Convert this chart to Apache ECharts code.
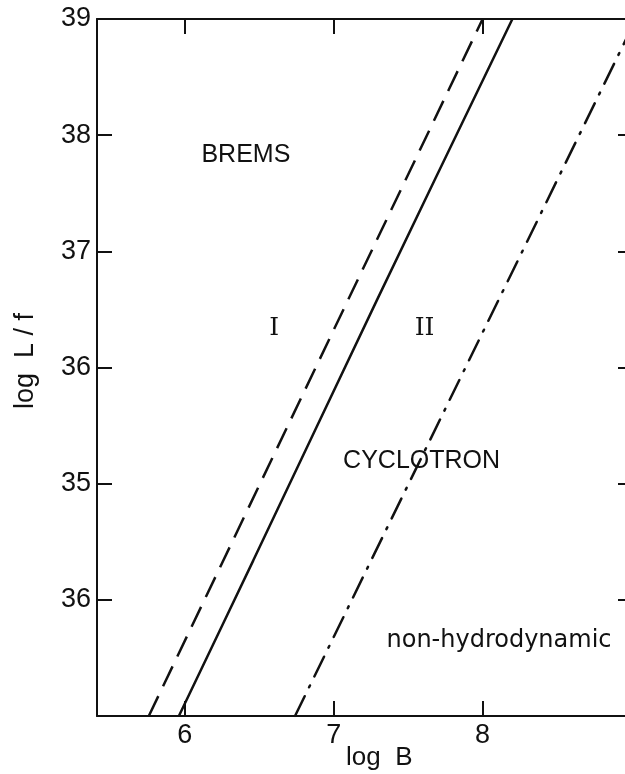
<!DOCTYPE html>
<html>
<head>
<meta charset="utf-8">
<title>log L/f vs log B</title>
<script src="https://cdn.jsdelivr.net/npm/echarts@6/dist/echarts.min.js"></script>
<style>
  html, body { margin: 0; padding: 0; background: #fff; overflow: hidden; }
  /* the frame runs a little past the right edge of the page */
  #chart { width: 645px; height: 774px; }
</style>
</head>
<body>
<div id="chart"></div>
<script>
// Axis ranges and tick labels
const xTicks = [6, 7, 8];
const yTickValues = [39, 38, 37, 36, 35, 34];
const yTickLabels = ['39', '38', '37', '36', '35', '36'];

// Boundary curves (log B, log L/f)
const dashedB = [5.758, 8.0];
const dashedL = [33, 39];
const solidB = [5.96, 6.46, 7.29, 8.20];
const solidL = [33, 34.34, 36.58, 39];
const dashDotB = [6.74, 9.03];
const dashDotL = [33, 39];

// Region annotations
const regionNames = ['BREMS', 'CYCLOTRON', 'non-hydrodynamic'];
const regionB = [6.41, 7.59, 8.11];
const regionL = [37.83, 35.19, 33.65];
const zoneNames = ['I', 'II'];
const zoneB = [6.60, 7.61];
const zoneL = [36.34, 36.34];

const ink = '#111';
const font = 'Liberation Sans';
// capitals in Liberation Sans, lower case in the rounder DejaVu Sans
const regionFonts = [
  { fontFamily: 'Liberation Sans', fontSize: 25 },
  { fontFamily: 'Liberation Sans', fontSize: 25 },
  { fontFamily: 'DejaVu Sans', fontSize: 24 }
];

function pairs(xs, ys) { return xs.map((x, i) => [x, ys[i]]); }

const chart = echarts.init(document.getElementById('chart'), null, { renderer: 'canvas' });

const xCommon = {
  type: 'value', min: 5.41, max: 9.01,
  axisLine: { show: true, onZero: false, lineStyle: { color: ink, width: 2 } },
  axisTick: { show: true, inside: true, length: 15, customValues: xTicks, lineStyle: { color: ink, width: 2 } },
  splitLine: { show: false }
};
const yCommon = {
  type: 'value', min: 33, max: 39, interval: 1,
  axisLine: { show: true, onZero: false, lineStyle: { color: ink, width: 2 } },
  axisTick: { show: true, inside: true, length: 15, customValues: yTickValues, lineStyle: { color: ink, width: 2 } },
  splitLine: { show: false }
};

const annotationLabel = { show: true, position: 'inside', formatter: p => p.name, color: ink, opacity: 1, textBorderWidth: 0 };

chart.setOption({
  animation: false,
  backgroundColor: '#fff',
  grid: { left: 97, top: 19, width: 536, height: 697, containLabel: false },
  xAxis: [
    Object.assign({}, xCommon, {
      position: 'bottom',
      axisLabel: { show: true, customValues: xTicks, margin: 6, color: ink, fontFamily: font, fontSize: 27,
        formatter: v => String(Math.round(v)) }
    }),
    Object.assign({}, xCommon, { position: 'top', axisLabel: { show: false } })
  ],
  yAxis: [
    Object.assign({}, yCommon, {
      position: 'left',
      axisLabel: { show: true, customValues: yTickValues, margin: 6, color: ink, fontFamily: font, fontSize: 27,
        formatter: v => yTickLabels[yTickValues.indexOf(Math.round(v))] || '' }
    }),
    Object.assign({}, yCommon, { position: 'right', axisLabel: { show: false } })
  ],
  graphic: [
    { type: 'text', left: 346, top: 745,
      style: { text: 'log  B', fill: ink, font: '26px "Liberation Sans"' } },
    { type: 'text', left: 12, top: 313, rotation: Math.PI / 2,
      style: { text: 'log  L / f', fill: ink, font: '27px "Liberation Sans"' } }
  ],
  series: [
    { type: 'line', data: pairs(dashedB, dashedL), symbol: 'none', clip: true,
      lineStyle: { color: ink, width: 2.5, type: [22, 11] } },
    { type: 'line', data: pairs(solidB, solidL), symbol: 'none', smooth: 0.3, clip: true,
      lineStyle: { color: ink, width: 2.5 } },
    { type: 'line', data: pairs(dashDotB, dashDotL), symbol: 'none', clip: true,
      lineStyle: { color: ink, width: 2.5, type: [2, 10, 22, 10], dashOffset: 12, cap: 'round' } },
    { type: 'scatter', symbolSize: 0, silent: true, itemStyle: { opacity: 1 },
      data: regionNames.map((n, i) => ({ value: [regionB[i], regionL[i]], name: n, label: regionFonts[i] })),
      label: annotationLabel },
    { type: 'scatter', symbolSize: 0, silent: true, itemStyle: { opacity: 1 },
      data: zoneNames.map((n, i) => ({ value: [zoneB[i], zoneL[i]], name: n })),
      label: Object.assign({}, annotationLabel, { fontFamily: 'DejaVu Serif', fontSize: 25 }) }
  ]
});
</script>
</body>
</html>
